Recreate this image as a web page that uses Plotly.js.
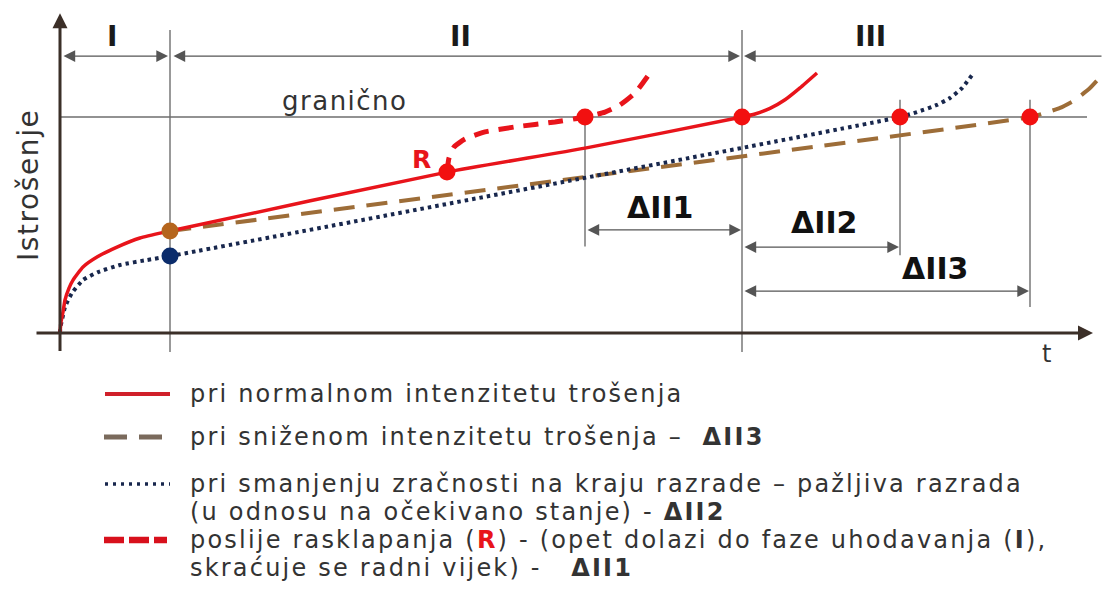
<!DOCTYPE html>
<html>
<head>
<meta charset="utf-8">
<script src="https://cdn.plot.ly/plotly-3.0.1.min.js"></script>
<style>html,body{margin:0;padding:0;background:#fff;}#chart{width:1111px;height:600px;}</style>
</head>
<body>
<div id="chart"></div>
<script>
// ---- curve data (t = time, w = wear; granično = 10) ----
const normalT = [0, 0.1, 0.3, 0.5, 0.9, 1.3, 2.3, 3.7, 5.7, 8, 11, 38.7, 52.5, 68.2, 69.5, 71, 72.5, 74, 75.7];
const normalW = [0, 0.51, 0.97, 1.53, 2.08, 2.45, 3.06, 3.52, 3.98, 4.4, 4.72, 7.45, 8.56, 10, 10.14, 10.4, 10.8, 11.35, 12.04];

const reducedT = [11, 97, 98.5, 100, 101.5, 103, 104.3];
const reducedW = [4.72, 10, 10.19, 10.42, 10.79, 11.34, 11.99];

const clearanceT = [0, 0.05, 0.2, 0.5, 1.2, 2.3, 3.8, 6, 8.7, 11, 84, 85.7, 87.7, 89, 90.2, 91.2];
const clearanceW = [0, 0.3, 0.6, 1.2, 1.85, 2.45, 2.82, 3.15, 3.38, 3.56, 10, 10.23, 10.56, 10.88, 11.34, 11.94];

const repairT = [38.7, 38.9, 39.4, 40.5, 42.5, 45.5, 49.5, 52.5, 54.5, 56, 57.5, 59];
const repairW = [7.45, 8.1, 8.61, 8.98, 9.31, 9.54, 9.77, 10, 10.23, 10.56, 11.11, 12.04];

const limitPointT = [38.7, 52.5, 68.2, 84, 97];
const limitPointW = [7.45, 10, 10, 10, 10];
const runInT = [11, 11];
const runInW = [4.72, 3.56];

// ---- schematic structure ----
const limitW = 10, limitEnd = 102.7;
const phaseBounds = [0, 11, 68.2, 104.5];
const phaseLabels = ['I', 'II', 'III'];
const phaseLabelT = [5.2, 40, 81];
const phaseArrowW = 12.82, phaseLabelW = 13.75;
const deltaLabels = ['ΔII1', 'ΔII2', 'ΔII3'];
const deltaStart = [52.5, 68.2, 68.2];
const deltaEnd = [68.2, 84, 97];
const deltaLineT = [52.5, 84, 97];
const deltaArrowW = [4.77, 3.98, 1.94];
const deltaLabelT = [60, 76.4, 87.5];
const deltaLabelW = [5.8, 5.1, 3.0];
const deltaLineTop = [10, 10.8, 10.8];
const deltaLineBottom = [4.0, 3.6, 1.2];
const legendLabels = [
  'pri normalnom intenzitetu trošenja',
  'pri sniženom intenzitetu trošenja –\u00a0\u00a0<b>ΔII3</b>',
  'pri smanjenju zračnosti na kraju razrade – pažljiva razrada',
  '(u odnosu na očekivano stanje) - <b>ΔII2</b>',
  'poslije rasklapanja (<span style="fill:#e8141b;letter-spacing:2.2px"><b>R</b></span>) - (opet dolazi do faze uhodavanja (<b>I</b>),',
  'skraćuje se radni vijek) -\u00a0\u00a0\u00a0<b>ΔII1</b>'
];

// ---- styles ----
const RED = '#e8141b', BROWN = '#9d6d38', NAVY = '#18274d', GREY = '#6e6e6e', AXIS = '#3b2f28';
const FONT = 'DejaVu Sans, Liberation Sans, sans-serif';
const W = 1111, H = 600;
const px = x => x / W, py = y => 1 - y / H;
const spaced = (s, ls) => '<span style="letter-spacing:' + ls + 'px">' + s + '</span>';

const traces = [
  {x: reducedT, y: reducedW, mode: 'lines', line: {color: BROWN, width: 4, dash: '21px,12px', shape: 'spline', smoothing: 0.5}, hoverinfo: 'skip'},
  {x: clearanceT, y: clearanceW, mode: 'lines', line: {color: NAVY, width: 4, dash: '3.5px,4px', shape: 'spline', smoothing: 0.5}, hoverinfo: 'skip'},
  {x: normalT, y: normalW, mode: 'lines', line: {color: RED, width: 3.5, shape: 'spline', smoothing: 0.5}, hoverinfo: 'skip'},
  {x: repairT, y: repairW, mode: 'lines', line: {color: RED, width: 5, dash: '15px,10px', shape: 'spline', smoothing: 0.5}, hoverinfo: 'skip'},
  {x: limitPointT, y: limitPointW, mode: 'markers', marker: {color: '#f21010', size: 17, line: {width: 0}}, hoverinfo: 'skip'},
  {x: runInT, y: runInW, mode: 'markers', marker: {color: ['#b5651d', '#0b2c6b'], size: 17, line: {width: 0}}, hoverinfo: 'skip'}
];

const shapes = [];
[phaseBounds[1], phaseBounds[2]].forEach(t => shapes.push({type: 'line', xref: 'x', yref: 'y', x0: t, x1: t, y0: -0.88, y1: 14.03, line: {color: GREY, width: 1.4}, layer: 'below'}));
shapes.push({type: 'line', xref: 'x', yref: 'y', x0: 0, x1: limitEnd, y0: limitW, y1: limitW, line: {color: GREY, width: 1.4}, layer: 'below'});
deltaLineT.forEach((t, i) => {
  shapes.push({type: 'line', xref: 'x', yref: 'y', x0: t, x1: t, y0: deltaLineBottom[i], y1: deltaLineTop[i], line: {color: GREY, width: 1.4}, layer: 'below'});
});
// legend rows (pixel positions)
const legendY = [394, 437, 484, 512, 540, 568];
shapes.push({type: 'line', xref: 'paper', yref: 'paper', x0: px(105), x1: px(170), y0: py(legendY[0]), y1: py(legendY[0]), line: {color: '#d0202a', width: 4}});
shapes.push({type: 'line', xref: 'paper', yref: 'paper', x0: px(104), x1: px(162), y0: py(legendY[1]), y1: py(legendY[1]), line: {color: '#7a6a5c', width: 5, dash: '23px,12px'}});
shapes.push({type: 'line', xref: 'paper', yref: 'paper', x0: px(105), x1: px(170), y0: py(legendY[2]), y1: py(legendY[2]), line: {color: NAVY, width: 3.5, dash: '3px,5px'}});
shapes.push({type: 'line', xref: 'paper', yref: 'paper', x0: px(104), x1: px(167), y0: py(legendY[4]), y1: py(legendY[4]), line: {color: '#d8101c', width: 6.5, dash: '20px,5px'}});

const annotations = [];
const arrowBase = {xref: 'x', yref: 'y', axref: 'x', ayref: 'y', text: '', showarrow: true, arrowcolor: '#555', arrowwidth: 1.3, arrowhead: 2, arrowsize: 1.8, standoff: 0, startstandoff: 0, startarrowhead: 2, startarrowsize: 1.8};
annotations.push(Object.assign({}, arrowBase, {x: 0, y: 14.8, ax: 0, ay: -0.9, arrowcolor: AXIS, arrowwidth: 3, arrowsize: 1, arrowside: 'end'}));
annotations.push(Object.assign({}, arrowBase, {x: 103.3, y: 0, ax: -2.5, ay: 0, arrowcolor: AXIS, arrowwidth: 3, arrowsize: 1, arrowside: 'end'}));
phaseLabels.forEach((lab, i) => {
  const last = i === phaseLabels.length - 1;
  annotations.push(Object.assign({}, arrowBase, {x: last ? phaseBounds[i] : phaseBounds[i + 1], y: phaseArrowW, ax: last ? phaseBounds[i + 1] : phaseBounds[i], ay: phaseArrowW, arrowside: last ? 'end' : 'end+start', standoff: 2, startstandoff: 2}));
  annotations.push({xref: 'x', yref: 'y', x: phaseLabelT[i], y: phaseLabelW, text: '<b>' + lab + '</b>', showarrow: false, font: {family: FONT, size: 28, color: '#1a1a1a'}});
});
deltaLabels.forEach((lab, i) => {
  annotations.push(Object.assign({}, arrowBase, {x: deltaEnd[i], y: deltaArrowW[i], ax: deltaStart[i], ay: deltaArrowW[i], arrowside: 'end+start', standoff: 1, startstandoff: 1}));
  annotations.push({xref: 'x', yref: 'y', x: deltaLabelT[i], y: deltaLabelW[i], text: '<b>' + lab + '</b>', showarrow: false, font: {family: FONT, size: 30, color: '#111'}});
});
annotations.push({xref: 'x', yref: 'y', x: 28.5, y: 10.75, text: spaced('granično', 1.5), showarrow: false, font: {family: FONT, size: 26, color: '#333'}});
annotations.push({xref: 'x', yref: 'y', x: -3.2, y: 6.85, text: spaced('Istrošenje', 1.6), textangle: -90, showarrow: false, font: {family: FONT, size: 28, color: '#333'}});
annotations.push({xref: 'x', yref: 'y', x: 98.6, y: -0.95, text: 't', showarrow: false, font: {family: FONT, size: 24, color: '#333'}});
annotations.push({xref: 'x', yref: 'y', x: 36.1, y: 8.05, text: '<b>R</b>', showarrow: false, font: {family: FONT, size: 25, color: RED}});
legendLabels.forEach((lab, i) => {
  annotations.push({xref: 'paper', yref: 'paper', x: px(188), y: py(legendY[i]), xanchor: 'left', yanchor: 'middle', text: spaced(lab, 2.2), showarrow: false, font: {family: FONT, size: 24, color: '#333'}});
});

const layout = {
  width: W, height: H,
  margin: {l: 0, r: 0, t: 0, b: 0},
  paper_bgcolor: '#fff', plot_bgcolor: '#fff',
  showlegend: false,
  xaxis: {range: [-6, 105.1], visible: false, fixedrange: true},
  yaxis: {range: [-12.361, 15.417], visible: false, fixedrange: true},
  shapes: shapes,
  annotations: annotations
};

Plotly.newPlot('chart', traces, layout, {displayModeBar: false, staticPlot: true});
</script>
</body>
</html>
